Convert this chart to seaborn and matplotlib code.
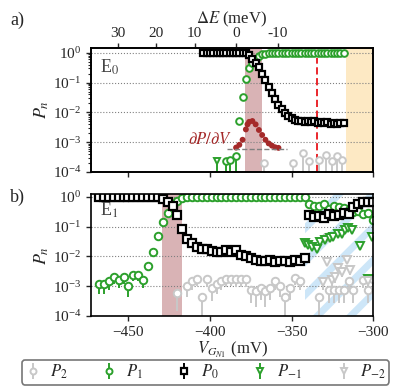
import numpy as np
import matplotlib
matplotlib.use("Agg")
import matplotlib.pyplot as plt
import seaborn as sns

sns.set_style("ticks")
plt.rcParams["font.family"] = ["Liberation Serif", "DejaVu Serif"]
plt.rcParams["mathtext.fontset"] = "stix"
plt.rcParams["hatch.linewidth"] = 5.0
plt.rcParams["axes.edgecolor"] = "black"

# ---------------- panel a) : E0 transition ----------------
v_a = [-404, -402, -400, -398, -396, -394, -392, -390, -388, -386, -384, -382, -380,
       -378, -376, -374, -372, -370, -368, -366, -364, -362, -360, -358, -356, -354,
       -352, -350, -348, -346, -344, -342, -340, -338, -336, -334, -332, -330, -328,
       -326, -324, -322, -320, -318]
p0_a = [1.0, 1.0, 1.0, 1.0, 1.0, 1.0, 1.0, 1.0, 1.0, 1.0, 1.0, 1.0, 0.99,
        0.95, 0.85, 0.6, 0.45, 0.33, 0.2, 0.12, 0.07, 0.045, 0.028, 0.018, 0.013, 0.0095,
        0.0078, 0.0063, 0.0055, 0.005, 0.0052, 0.0048, 0.0051, 0.0047, 0.005, 0.0045,
        0.0049, 0.0043, 0.0046, 0.0042, 0.0045, 0.0041, 0.0044, 0.0043]
p1_a = [np.nan, np.nan, np.nan, np.nan, np.nan, np.nan, np.nan, 2.3e-4, 2.6e-4, np.nan,
        3.4e-4, 5e-3, 0.032, 0.13, 0.3, 0.44, 0.6, 0.75, 0.88, 0.93, 0.96, 0.98, 0.99,
        1.0, 1.0, 1.0, 1.0, 1.0, 1.0, 1.0, 1.0, 1.0, 1.0, 1.0, 1.0, 1.0, 1.0, 1.0, 1.0,
        1.0, 1.0, 1.0, 1.0, 1.0]
v_p2_a = [-367, -349, -343, -339, -333, -329, -325, -322, -319]
p2_a = [2.0e-4, 2.0e-4, 4.4e-4, 2.3e-4, 2.6e-4, 3.6e-4, 2.3e-4, 3.4e-4, 2.6e-4]
v_pm1_a = [-396]
pm1_a = [2.3e-4]

# derivative dP/dV (normalised, drawn on its own linear scale)
v_dpdv = [-384, -382, -380, -378, -377, -376, -374, -372, -370, -368, -366, -364,
          -362, -360, -358]
dpdv = [0.05, 0.15, 0.33, 0.7, 0.88, 0.97, 1.0, 0.88, 0.68, 0.5, 0.33, 0.2,
        0.12, 0.06, 0.04]
dpdv_base = (-389.6, -352.8)

# top axis: detuning
de_labels = ["30", "20", "10", "0", "-10"]
de_pos_v = [-456.4, -433.0, -409.5, -384.1, -358.4]

# ---------------- panel b) : E1 transition ----------------
v_b = [-468, -465, -462, -459, -456, -453, -450, -447, -444, -441, -438, -435, -432,
       -429, -426, -423, -420, -417, -414, -411, -408, -405, -402, -399, -396, -393,
       -390, -387, -384, -381, -378, -375, -372, -369, -366, -363, -360, -357, -354,
       -351, -348, -345, -342, -339, -336, -333, -330, -327, -324, -321, -318, -315,
       -312, -309, -306, -303, -300]
p0_b = [1.0, 1.0, 1.0, 1.0, 1.0, 1.0, 1.0, 1.0, 1.0, 1.0, 1.0, 1.0,
        0.95, 0.82, 0.68, 0.49, 0.25, 0.085, 0.037, 0.027, 0.021, 0.018, 0.017, 0.015,
        0.0145, 0.0145, 0.016, 0.014, 0.016, 0.0114, 0.0105, 0.0088, 0.0078, 0.0068,
        0.0072, 0.0075, 0.0063, 0.0072, 0.0068, 0.0065, 0.0078, 0.0068, 0.0088,
        0.24, 0.21, 0.22, 0.2, 0.27, 0.22, 0.24, 0.28, 0.27, 0.45, 0.55, 0.68, 0.68, 0.68]
p1_b = [1.2e-3, 1.15e-3, 1.45e-3, 2.0e-3, 1.6e-3, 2.0e-3, 1.0e-3, 2.4e-3, 2.4e-3,
        1.6e-3, 4.6e-3, 1.45e-2, 0.049, 0.14, 0.28, 0.5, 0.74, 0.92, 0.98,
        1.0, 1.0, 1.0, 1.0, 1.0, 1.0, 1.0, 1.0, 1.0, 1.0, 1.0, 1.0, 1.0, 1.0, 1.0, 1.0,
        1.0, 1.0, 1.0, 1.0, 1.0, 1.0, 1.0, 1.0,
        0.55, 0.47, 0.5, 0.58, 0.4, 0.5, 0.45, 0.41, 0.36, 0.3, 0.32, 0.27, 0.28, 0.17]
v_p2_b = [-420, -414, -411, -408, -405, -402, -399, -396, -393, -390, -387, -384, -381,
          -378, -375, -372, -369, -366, -363, -360, -357, -354, -351, -348, -345,
          -333, -329, -327, -324, -321, -318, -315, -312, -306, -303, -300]
p2_b = [6.0e-4, 1.0e-3, 1.45e-3, 1.75e-3, 4.3e-4, 1.7e-3, 8.5e-4, 1.2e-3, 1.45e-3,
        1.7e-3, 1.75e-3, 1.7e-3, 1.7e-3, 1.7e-3, 7.7e-4, 6.8e-4, 9e-4, 6.8e-4, 9e-4,
        1.45e-3, 1.0e-3, 4.5e-4, 9e-4, 1.9e-3, 1.45e-3,
        4.2e-4, 0.045, 7.7e-4, 7.7e-4, 7.7e-4, 7.7e-4, 1.45e-3, 7.7e-4, 1.6e-3, 7.7e-4, 1.7e-3]
v_pm1_b = [-341.7, -339.7, -337.6, -334.5, -332.5, -329.4, -326.4, -324.4, -321.3,
           -319.2, -317.2, -315.2, -313.1, -308.0, -302.9, -300.8]
pm1_b = [0.027, 0.024, 0.021, 0.018, 0.031, 0.035, 0.04, 0.045, 0.058,
         0.058, 0.076, 0.088, 0.077, 0.023, 1.8e-3, 0.046]
v_pm2_b = [-330.5, -328.4, -325.3, -323.3, -321.3, -319.2, -316.1, -314.1, -302.9]
pm2_b = [1.4e-3, 6.4e-3, 1.6e-3, 2.1e-3, 4.0e-3, 3.1e-3, 7.6e-3, 3.5e-3, 1.45e-3]

N_SHOTS = 3000  # single-shot repetitions per point (binomial error bars)

styles = {
    "P2": dict(color="#c8c8c8", marker="o", label=r"$P_2$"),
    "P1": dict(color="#2ca02c", marker="o", label=r"$P_1$"),
    "P0": dict(color="black", marker="s", label=r"$P_0$"),
    "Pm1": dict(color="#2ca02c", marker="v", label=r"$P_{-1}$"),
    "Pm2": dict(color="#c8c8c8", marker="v", label=r"$P_{-2}$"),
}


def draw(ax, v, p, key, ms, mew=1.4):
    p = np.asarray(p, dtype=float)
    err = np.sqrt(p * (1 - p) / N_SHOTS)
    err = np.minimum(err, p * 0.999)
    st = styles[key]
    return ax.errorbar(v, p, yerr=[err, np.zeros_like(err)], fmt=st["marker"],
                       color=st["color"], mfc="white", mec=st["color"], ms=ms,
                       mew=mew, elinewidth=1.4, capsize=0, label=st["label"])


fig = plt.figure(figsize=(4.15, 3.86), dpi=100)
ax_a = fig.add_axes([0.2193, 0.5544, 0.6795, 0.322])
ax_b = fig.add_axes([0.2193, 0.1813, 0.6795, 0.3153])

xlim = (-473, -300)
for ax, top in ((ax_a, 1.47), (ax_b, 1.2)):
    ax.set_yscale("log")
    ax.set_xlim(*xlim)
    ax.set_ylim(1e-4, top)
    ax.set_yticks([1e0, 1e-1, 1e-2, 1e-3, 1e-4])
    ax.grid(axis="y", which="major", ls=":", color="gray", lw=0.8)
    ax.set_axisbelow(True)
    ax.set_ylabel(r"$P_n$", fontsize=13, labelpad=1)
    ax.tick_params(axis="both", which="major", labelsize=11, length=3.5, width=1)
    ax.tick_params(axis="y", which="minor", length=2, width=0.8)
    for s in ax.spines.values():
        s.set_linewidth(1.2)

# panel a
ax_a.axvspan(-378.5, -368.1, color="#d9b3b5", lw=0, zorder=0)
ax_a.axvspan(-316.6, -300, color="#fde9c4", lw=0, zorder=0)
ax_a.axvline(-334.4, ymax=0.917, color="#e8151b", ls=(0, (4, 2)), lw=1.3, zorder=1)
draw(ax_a, v_p2_a, p2_a, "P2", 4.8)
draw(ax_a, v_a, p1_a, "P1", 4.8)
draw(ax_a, v_a, p0_a, "P0", 4.5, mew=1.6)
draw(ax_a, v_pm1_a, pm1_a, "Pm1", 4.8)
ax_a.tick_params(axis="x", bottom=False, labelbottom=False)
ax_a.text(0.032, 0.84, r"E$_0$", transform=ax_a.transAxes, fontsize=13,
          color="#444444", va="center")
ax_a.text(-386.5, 1.15e-3, r"$\partial P/\partial V$", color="#a52a2a", fontsize=12,
          ha="right", va="center")

ax_d = ax_a.twinx()
ax_d.set_ylim(-0.822, 3.62)
ax_d.axis("off")
ax_d.hlines(0, dpdv_base[0], dpdv_base[1], colors="gray", linestyles="--", lw=1)
sns.scatterplot(x=v_dpdv, y=dpdv, ax=ax_d, color="#a52a2a", s=18, edgecolor="none",
                legend=False)
ax_d.set_xlim(*xlim)

ax_top = ax_a.twiny()
ax_top.set_xlim(*xlim)
ax_top.set_xticks(de_pos_v)
ax_top.set_xticklabels(de_labels)
ax_top.tick_params(axis="x", labelsize=11, length=3.5, width=1, pad=2)
ax_top.set_xlabel(r"$\Delta E$ (meV)", fontsize=12, labelpad=3)
for s in ax_top.spines.values():
    s.set_linewidth(1.2)

# panel b
ax_b.axvspan(-429.4, -417, color="#d9b3b5", lw=0, zorder=0)
ax_b.axvspan(-342, -300, facecolor="none", edgecolor="#cde6f8", hatch="/", lw=0, zorder=0)
h2 = draw(ax_b, v_p2_b, p2_b, "P2", 5.4)
h1 = draw(ax_b, v_b, p1_b, "P1", 5.4)
h0 = draw(ax_b, v_b, p0_b, "P0", 5.2, mew=1.6)
hm1 = draw(ax_b, v_pm1_b, pm1_b, "Pm1", 5.4)
hm2 = draw(ax_b, v_pm2_b, pm2_b, "Pm2", 5.4)
ax_b.set_xticks([-450, -400, -350, -300])
ax_b.set_xlabel(r"$V_{G_{N1}}$ (mV)", fontsize=12, labelpad=1)
ax_b.text(0.032, 0.87, r"E$_1$", transform=ax_b.transAxes, fontsize=13,
          color="#444444", va="center")

fig.text(0.041, 0.948, "a)", fontsize=13, ha="center", va="center")
fig.text(0.041, 0.49, "b)", fontsize=13, ha="center", va="center")

handles = [h2, h1, h0, hm1, hm2]
leg = fig.legend(handles, [h.get_label() for h in handles], loc="center",
                 bbox_to_anchor=(0.495, 0.036), ncol=5, fontsize=12, frameon=True,
                 handlelength=1.0, columnspacing=2.0, handletextpad=0.5,
                 borderpad=0.2, fancybox=True, edgecolor="#555555", markerscale=0.8)
leg.get_frame().set_linewidth(1.2)

fig.savefig("out.png", dpi=100)
